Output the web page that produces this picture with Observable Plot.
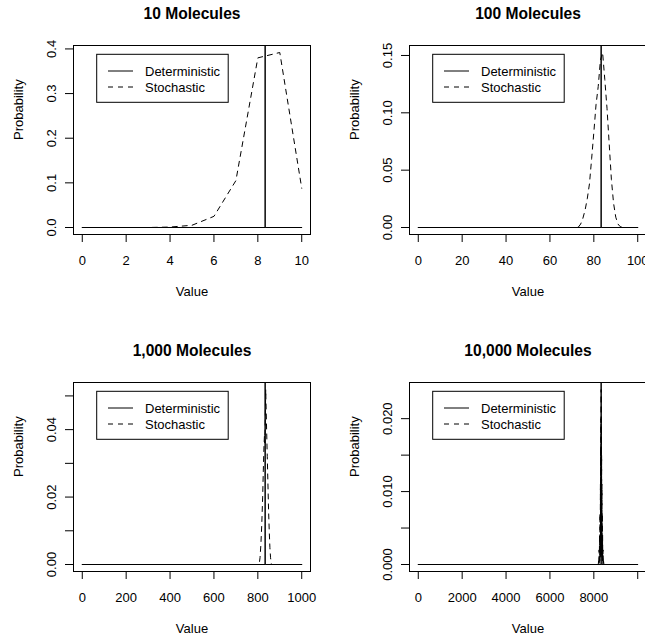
<!DOCTYPE html>
<html><head><meta charset="utf-8">
<script src="https://cdn.jsdelivr.net/npm/d3@7"></script>
<script src="https://cdn.jsdelivr.net/npm/@observablehq/plot@0.6"></script>
<style>
html,body{margin:0;padding:0;background:#fff;}
#wrap{position:relative;width:645px;height:639px;overflow:hidden;background:#fff;}
#wrap > svg{position:absolute;}
</style></head><body><div id="wrap"></div>
<script>
// ---- data ----
const panelTitles = ["10 Molecules", "100 Molecules", "1,000 Molecules", "10,000 Molecules"];
const moleculeCounts = [10, 100, 1000, 10000];
const deterministicValues = [8.333, 83.33, 833.3, 8333];
const legendLabels = ["Deterministic", "Stochastic"];
const xLabel = "Value";
const yLabel = "Probability";

const stoch10X = [0, 1, 2, 3, 4, 5, 6, 7, 8, 9, 10];
const stoch10Y = [0, 0, 0, 0, 0.001, 0.005, 0.025, 0.105, 0.38, 0.392, 0.088];

const stoch100X = [0, 72, 73, 74, 75, 76, 77, 78, 79, 80, 81, 82, 83, 84, 85, 86, 87, 88, 89, 90, 91, 92, 93, 100];
const stoch100Y = [0, 0, 0.0005, 0.003, 0.008, 0.015, 0.025, 0.038, 0.06, 0.083, 0.107, 0.123, 0.146, 0.1526, 0.129, 0.104, 0.073, 0.042, 0.021, 0.009, 0.003, 0.0008, 0, 0];

const stoch1000X = [0, 800, 806, 810, 814, 818, 822, 825, 828, 830, 832, 834, 836, 838, 840, 843, 846, 849, 852, 855, 858, 862, 1000];
const stoch1000Y = [0, 0, 0, 0.002, 0.006, 0.012, 0.02, 0.028, 0.035, 0.038, 0.036, 0.044, 0.0519, 0.046, 0.04, 0.032, 0.024, 0.016, 0.01, 0.005, 0.002, 0, 0];

const stoch10000X = [0, 8200, 8220, 8230, 8240, 8250, 8260, 8270, 8280, 8290, 8300, 8308, 8315, 8320, 8325, 8330, 8335, 8340, 8345, 8350, 8355, 8362, 8370, 8378, 8385, 8392, 8400, 8410, 8420, 8430, 8440, 8460, 10000];
const stoch10000Y = [0, 0, 0.0005, 0, 0.002, 0, 0.004, 0.0005, 0.007, 0.001, 0.011, 0.001, 0.016, 0.002, 0.02, 0.002, 0.024, 0.002, 0.019, 0.002, 0.015, 0.001, 0.011, 0.001, 0.007, 0.0005, 0.004, 0, 0.002, 0, 0.0005, 0, 0];

const xTicks10 = [0, 2, 4, 6, 8, 10];
const xTickLabels10 = ["0", "2", "4", "6", "8", "10"];
const xTicks100 = [0, 20, 40, 60, 80, 100];
const xTickLabels100 = ["0", "20", "40", "60", "80", "100"];
const xTicks1000 = [0, 200, 400, 600, 800, 1000];
const xTickLabels1000 = ["0", "200", "400", "600", "800", "1000"];
const xTicks10000 = [0, 2000, 4000, 6000, 8000, 10000];
const xTickLabels10000 = ["0", "2000", "4000", "6000", "8000", ""];

const yTicks10 = [0, 0.1, 0.2, 0.3, 0.4];
const yTickLabels10 = ["0.0", "0.1", "0.2", "0.3", "0.4"];
const yTicks100 = [0, 0.05, 0.1, 0.15];
const yTickLabels100 = ["0.00", "0.05", "0.10", "0.15"];
const yTicks1000 = [0, 0.01, 0.02, 0.03, 0.04, 0.05];
const yTickLabels1000 = ["0.00", "", "0.02", "", "0.04", ""];
const yTicks10000 = [0, 0.005, 0.01, 0.015, 0.02];
const yTickLabels10000 = ["0.000", "", "0.010", "", "0.020"];

// ---- layout ----
const FONT = "'Liberation Sans', Arial, Helvetica, sans-serif";
const W = 336, H = 337, ML = 73, MR = 26, MT = 45, MB = 103;
const offsets = [[0, 0], [336, 0], [0, 337], [336, 337]];

function panel(i, xs, ys, xTicks, xLabs, yTicks, yLabs) {
  const N = moleculeCounts[i];
  const M = d3.max(ys);
  const det = deterministicValues[i];
  const stoch = xs.map((x, k) => ({x, y: ys[k]}));
  const detX = [0, det, det, det, N];
  const detY = [0, 0, 1, 0, 0];
  const detData = detX.map((x, k) => ({x, y: detY[k]}));
  const svg = Plot.plot({
    width: W, height: H,
    marginLeft: ML, marginRight: MR, marginTop: MT, marginBottom: MB,
    style: {fontFamily: FONT, fontSize: "13px", color: "black", background: "transparent", overflow: "visible"},
    x: {domain: [-0.04 * N, 1.04 * N], label: null},
    y: {domain: [-0.04 * M, 1.04 * M], label: null},
    marks: [
      Plot.line(detData, {x: "x", y: "y", stroke: "black", strokeWidth: 1, clip: true}),
      Plot.line(stoch, {x: "x", y: "y", stroke: "black", strokeWidth: 1, strokeDasharray: "5,5", clip: true}),
      Plot.frame({stroke: "black", strokeWidth: 1}),
      Plot.axisX({ticks: xTicks, tickSize: 8, tickPadding: 13, label: null, fontSize: 13,
        tickFormat: d => xLabs[xTicks.indexOf(d)]}),
      Plot.axisY({ticks: yTicks, tickSize: 8, tickPadding: 10, tickRotate: -90, label: null, fontSize: 13,
        tickFormat: d => yLabs[yTicks.indexOf(d)]}),
      Plot.text([panelTitles[i]], {text: d => d, frameAnchor: "top", dy: -26.7, lineAnchor: "bottom",
        fontWeight: "bold", fontSize: 15.6}),
      Plot.text([xLabel], {text: d => d, frameAnchor: "bottom", dy: 61.7, lineAnchor: "bottom", fontSize: 13}),
      Plot.text([yLabel], {text: d => d, frameAnchor: "left", dx: -51, rotate: -90, lineAnchor: "bottom", fontSize: 13})
    ]
  });
  // legend (R-style boxed legend, top-left inside the plot region)
  const g = d3.select(svg).append("g").attr("font-family", FONT).attr("font-size", 13)
    .attr("text-anchor", "start");
  const lx = ML + 23.7, ly = MT + 9.3;
  g.append("rect").attr("x", lx).attr("y", ly).attr("width", 131.5).attr("height", 48)
    .attr("fill", "white").attr("stroke", "black").attr("stroke-width", 1);
  legendLabels.forEach((lab, k) => {
    const yy = ly + 16.7 + k * 16;
    g.append("line").attr("x1", lx + 11.3).attr("x2", lx + 36.3).attr("y1", yy).attr("y2", yy)
      .attr("stroke", "black").attr("stroke-width", 1)
      .attr("stroke-dasharray", k === 1 ? "5,5" : null);
    g.append("text").attr("x", lx + 48.3).attr("y", yy + 5).attr("fill", "black")
      .attr("text-anchor", "start").text(lab);
  });
  svg.style.left = offsets[i][0] + "px";
  svg.style.top = offsets[i][1] + "px";
  document.getElementById("wrap").appendChild(svg);
}

panel(0, stoch10X, stoch10Y, xTicks10, xTickLabels10, yTicks10, yTickLabels10);
panel(1, stoch100X, stoch100Y, xTicks100, xTickLabels100, yTicks100, yTickLabels100);
panel(2, stoch1000X, stoch1000Y, xTicks1000, xTickLabels1000, yTicks1000, yTickLabels1000);
panel(3, stoch10000X, stoch10000Y, xTicks10000, xTickLabels10000, yTicks10000, yTickLabels10000);
</script></body></html>
